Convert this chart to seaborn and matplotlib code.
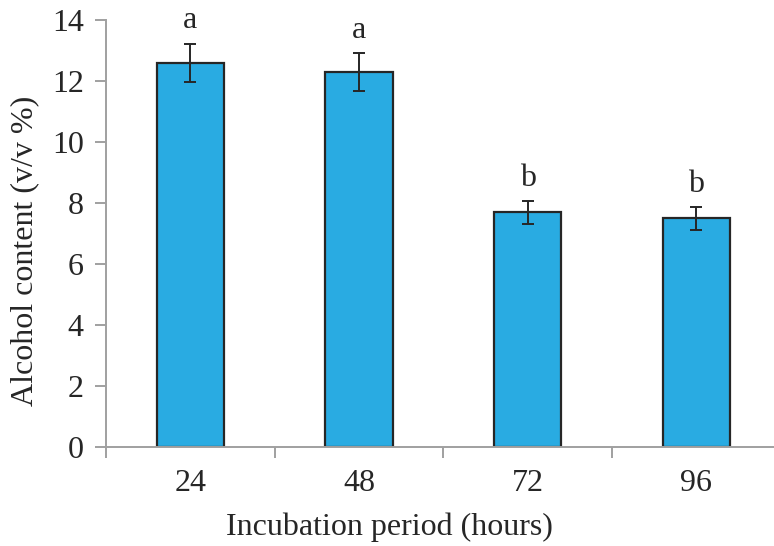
import numpy as np
import matplotlib
matplotlib.use('Agg')
import matplotlib.pyplot as plt
import seaborn as sns
import pandas as pd

# data
periods = ['24', '48', '72', '96']
alcohol = [12.6, 12.3, 7.7, 7.5]
errors = [0.63, 0.62, 0.38, 0.38]
letters = ['a', 'a', 'b', 'b']

df = pd.DataFrame({'period': periods, 'alcohol': alcohol})

sns.set_style('white')
plt.rcParams['font.family'] = ['Liberation Serif', 'DejaVu Serif']
fs = 23

fig = plt.figure(figsize=(7.74, 5.46), dpi=100)
ax = fig.add_axes([0.137, 0.181, 0.863, 0.782])

sns.barplot(data=df, x='period', y='alcohol', color='#29ABE2', saturation=1,
            width=0.4, edgecolor='#262626', linewidth=1.6, errorbar=None, ax=ax)

xpos = np.arange(len(periods))
ax.errorbar(xpos, alcohol, yerr=errors, fmt='none', ecolor='#262626',
            elinewidth=1.4, capsize=4.5, capthick=1.4)

# significance letters
for x, v, e, s in zip(xpos, alcohol, errors, letters):
    ax.text(x, v + e + 0.5, s, ha='center', va='baseline', fontsize=fs, color='#262626')

ax.set_ylim(0, 14)
ax.set_xlim(-0.5, 3.46)
ax.set_yticks(np.arange(0, 15, 2))

# ticks at category boundaries like the original
ax.set_xticks(xpos)
ax.set_xticks(np.arange(-0.5, 3.5, 1), minor=True)
ax.tick_params(axis='x', which='major', bottom=True, length=0, pad=16,
               labelsize=fs, colors='#262626')
ax.tick_params(axis='x', which='minor', bottom=True, length=8, width=1.4,
               color='#A0A0A0', direction='out')
ax.tick_params(axis='y', left=True, length=8, width=1.4, color='#A0A0A0', direction='out',
               labelsize=fs, labelcolor='#262626', pad=8)

for side in ['top', 'right']:
    ax.spines[side].set_visible(False)
for side in ['left', 'bottom']:
    ax.spines[side].set_color('#A0A0A0')
    ax.spines[side].set_linewidth(1.4)
    ax.spines[side].set_zorder(5)

ax.set_xlabel('Incubation period (hours)', fontsize=fs, color='#262626')
ax.set_ylabel('Alcohol content (v/v %)', fontsize=fs, color='#262626')
ax.xaxis.set_label_coords(0.425, -0.152)
ax.yaxis.set_label_coords(-0.1, 0.46)

fig.savefig('out.png', dpi=100)
